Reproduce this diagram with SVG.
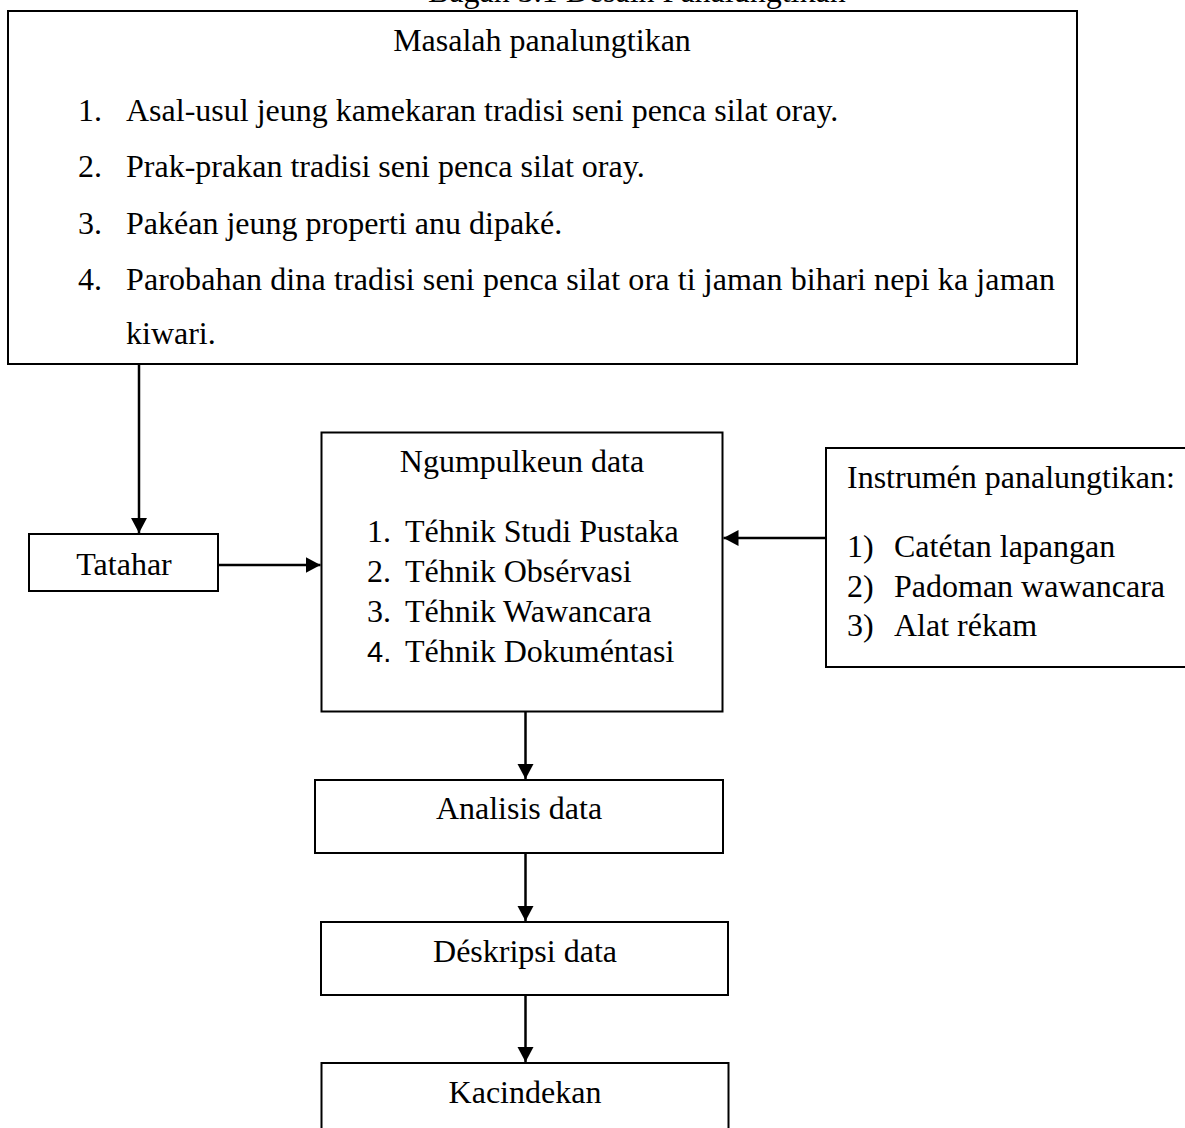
<svg xmlns="http://www.w3.org/2000/svg" width="1185" height="1128" viewBox="0 0 1185 1128">
<style>
  text { font-family: "Liberation Serif", "Times New Roman", serif; font-size: 32px; fill: #000; }
  .c { text-anchor: middle; }
  .sans { font-family: "Liberation Sans", Arial, sans-serif; font-size: 29px; }
  .box { fill: #fff; stroke: #000; stroke-width: 2; }
  .conn { stroke: #000; stroke-width: 2.5; fill: none; marker-end: url(#arr); }
</style>
<defs>
  <marker id="arr" markerUnits="userSpaceOnUse" markerWidth="17" markerHeight="17" refX="15" refY="8" orient="auto">
    <path d="M0,0 L15,8 L0,16 z" fill="#000"/>
  </marker>
</defs>
<rect width="1185" height="1128" fill="#fff"/>

<g id="title">
  <text x="428" y="2" fill="#333">Bagan 3.1 Desain Panalungtikan</text>
</g>

<g id="masalah">
  <rect class="box" x="8" y="11" width="1069" height="353"/>
  <text class="c" x="542" y="51">Masalah panalungtikan</text>
  <text x="78" y="121">1.</text>
  <text x="126" y="121">Asal-usul jeung kamekaran tradisi seni penca silat oray.</text>
  <text x="78" y="177">2.</text>
  <text x="126" y="177">Prak-prakan tradisi seni penca silat oray.</text>
  <text x="78" y="234">3.</text>
  <text x="126" y="234">Pakéan jeung properti anu dipaké.</text>
  <text x="78" y="290">4.</text>
  <text x="126" y="290" textLength="929" lengthAdjust="spacing">Parobahan dina tradisi seni penca silat ora ti jaman bihari nepi ka jaman</text>
  <text x="126" y="344">kiwari.</text>
</g>

<g id="tatahar">
  <rect class="box" x="29" y="534" width="189" height="57"/>
  <text class="c" x="124" y="575">Tatahar</text>
</g>

<g id="ngumpulkeun">
  <rect class="box" x="321.5" y="432.5" width="401" height="279"/>
  <text class="c" x="522" y="472">Ngumpulkeun data</text>
  <text x="367" y="542">1.</text>
  <text x="405" y="542">Téhnik Studi Pustaka</text>
  <text x="367" y="582">2.</text>
  <text x="405" y="582">Téhnik Obsérvasi</text>
  <text x="367" y="622">3.</text>
  <text x="405" y="622">Téhnik Wawancara</text>
  <text class="sans" x="367" y="662">4.</text>
  <text x="405" y="662">Téhnik Dokuméntasi</text>
</g>

<g id="instrumen">
  <rect class="box" x="826" y="448" width="370" height="219"/>
  <text x="847" y="488">Instrumén panalungtikan:</text>
  <text x="847" y="557">1)</text>
  <text x="894" y="557">Catétan lapangan</text>
  <text x="847" y="597">2)</text>
  <text x="894" y="597">Padoman wawancara</text>
  <text x="847" y="636">3)</text>
  <text x="894" y="636">Alat rékam</text>
</g>

<g id="analisis">
  <rect class="box" x="315" y="780" width="408" height="73"/>
  <text class="c" x="519" y="819">Analisis data</text>
</g>

<g id="deskripsi">
  <rect class="box" x="321" y="922" width="407" height="73"/>
  <text class="c" x="525" y="962">Déskripsi data</text>
</g>

<g id="kacindekan">
  <rect class="box" x="321.5" y="1063" width="407" height="90"/>
  <text class="c" x="525" y="1103">Kacindekan</text>
</g>

<g id="connectors">
  <line class="conn" x1="139" y1="364" x2="139" y2="533"/>
  <line class="conn" x1="218" y1="565" x2="320.5" y2="565"/>
  <line class="conn" x1="826" y1="538" x2="723.5" y2="538"/>
  <line class="conn" x1="525.5" y1="712" x2="525.5" y2="779"/>
  <line class="conn" x1="525.5" y1="853" x2="525.5" y2="921"/>
  <line class="conn" x1="525.5" y1="995" x2="525.5" y2="1062"/>
</g>
</svg>
